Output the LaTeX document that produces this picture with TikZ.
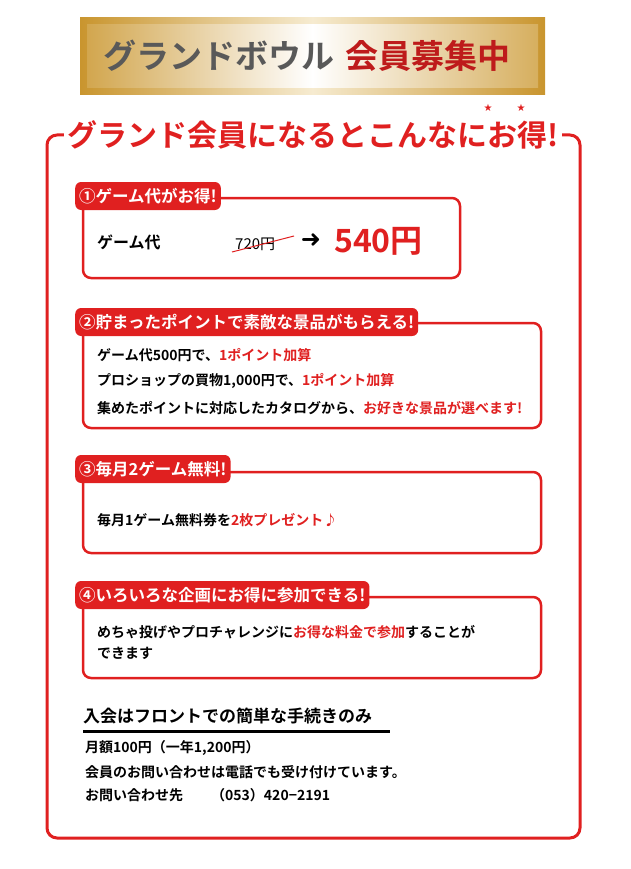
\documentclass[tikz,border=0pt]{standalone}
\usepackage{fontspec}
\setmainfont{Noto Sans CJK JP}[BoldFont={* Bold}]
\newfontfamily\jpb{Noto Sans CJK JP Bold}
\newfontfamily\dvs{DejaVu Sans}
\usetikzlibrary{shapes.geometric}
\definecolor{rd}{HTML}{E02020}
\definecolor{goldA}{HTML}{C9952E}
\definecolor{goldB}{HTML}{F6EBD0}
\begin{document}
\begin{tikzpicture}[x=1pt,y=-1pt,
  tab/.style={fill=rd,rounded corners=6pt,text=white,font=\jpb\fontsize{16.5}{16.5}\selectfont,anchor=west,inner sep=4pt},
  sbox/.style={draw=rd,line width=2.5pt,rounded corners=8pt,fill=white},
  body/.style={anchor=west,font=\jpb\fontsize{14}{14}\selectfont,inner sep=0pt},
  hl/.style={text=rd}]
\useasboundingbox (0,0) rectangle (630,869);
% banner
\shade[left color=goldA,right color=goldA,middle color=goldB] (80,18) rectangle (545,95);
\shade[left color=goldA!80!goldB,right color=goldA!70!goldB,middle color=white] (87,25) rectangle (538,88);
\node[anchor=west,font=\jpb\fontsize{33}{33}\selectfont,text=black!65] (b1) at (100,56) {グランドボウル};
\node[anchor=west,font=\jpb\fontsize{33}{33}\selectfont,text=rd!85!black] (b2) at (342,56) {会員募集中};
% outer box
\draw[draw=rd,line width=3pt,rounded corners=10pt] (47,135) rectangle (580,838);
\node[fill=white,inner sep=3pt,font=\jpb\fontsize{30}{30}\selectfont,text=rd] (title) at (313,135) {グランド会員になるとこんなにお得!};
\node[text=rd,font=\dvs\fontsize{10}{10}\selectfont] (s1) at (488,108) {★};
\node[text=rd,font=\dvs\fontsize{10}{10}\selectfont] (s2) at (521,108) {★};
% section 1
\draw[sbox] (83,198) rectangle (460,278);
\node[tab,minimum height=28pt] (t1) at (75,196) {①ゲーム代がお得!};
\node[body,font=\jpb\fontsize{16}{16}\selectfont] (g1) at (97,242) {ゲーム代};
\node[body,font=\fontsize{15}{15}\selectfont] (old) at (235,244) {720円};
\draw[rd,line width=1pt] (232,252) -- (294,236);
\node[font=\dvs\bfseries\fontsize{24}{24}\selectfont] (arr) at (311,241) {➜};
\node[body,text=rd,font=\jpb\fontsize{32}{32}\selectfont] (new) at (334,241) {540円};
% section 2
\draw[sbox] (83,323) rectangle (541,428);
\node[tab,minimum height=28pt] (t2) at (75,322) {②貯まったポイントで素敵な景品がもらえる!};
\node[body] (l21) at (97,355) {ゲーム代500円で、\textcolor{rd}{1ポイント加算}};
\node[body] (l22) at (97,381) {プロショップの買物1,000円で、\textcolor{rd}{1ポイント加算}};
\node[body] (l23) at (97,408) {集めたポイントに対応したカタログから、\textcolor{rd}{お好きな景品が選べます!}};
% section 3
\draw[sbox] (83,472) rectangle (541,553);
\node[tab,minimum height=28pt] (t3) at (75,469) {③毎月2ゲーム無料!};
\node[body] (l31) at (97,520) {毎月1ゲーム無料券を\textcolor{rd}{2枚プレゼント♪}};
% section 4
\draw[sbox] (83,597) rectangle (541,678);
\node[tab,minimum height=28pt] (t4) at (75,595) {④いろいろな企画にお得に参加できる!};
\node[body] (l41) at (97,632) {めちゃ投げやプロチャレンジに\textcolor{rd}{お得な料金で参加}することが};
\node[body] (l42) at (97,653) {できます};
% bottom
\node[body,font=\jpb\fontsize{17}{17}\selectfont] (h) at (83,716) {入会はフロントでの簡単な手続きのみ};
\draw[line width=3pt] (83,731) -- (390,731);
\node[body] (m1) at (85,748) {月額100円（一年1,200円）};
\node[body] (m2) at (85,772) {会員のお問い合わせは電話でも受け付けています。};
\node[body] (m3) at (85,795) {お問い合わせ先\hspace{2em}（053）420−2191};
\end{tikzpicture}
\end{document}
